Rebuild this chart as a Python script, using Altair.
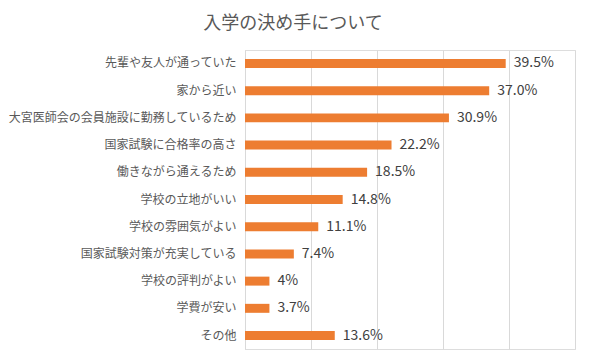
import altair as alt
import pandas as pd

title_text = "入学の決め手について"
categories = [
    "先輩や友人が通っていた",
    "家から近い",
    "大宮医師会の会員施設に勤務しているため",
    "国家試験に合格率の高さ",
    "働きながら通えるため",
    "学校の立地がいい",
    "学校の雰囲気がよい",
    "国家試験対策が充実している",
    "学校の評判がよい",
    "学費が安い",
    "その他",
]
values = [39.5, 37.0, 30.9, 22.2, 18.5, 14.8, 11.1, 7.4, 3.7, 3.7, 13.6]
labels = ["39.5%", "37.0%", "30.9%", "22.2%", "18.5%", "14.8%", "11.1%", "7.4%", "4%", "3.7%", "13.6%"]

df = pd.DataFrame({"cat": categories, "val": values, "lab": labels})
tdf = pd.DataFrame({"t": [title_text]})

FONT = "Noto Sans CJK JP"

y = alt.Y("cat:N", sort=categories, title=None,
          scale=alt.Scale(paddingInner=0.67, paddingOuter=0.33),
          axis=alt.Axis(labelFont=FONT, labelFontSize=12, labelColor="#595959",
                        labelPadding=9, ticks=False, domain=True,
                        domainColor="#D9D9D9", domainWidth=1, grid=False,
                        labelLimit=300))
x = alt.X("val:Q", title=None, scale=alt.Scale(domain=[0, 50], nice=False),
          axis=alt.Axis(values=[0, 10, 20, 30, 40, 50], labels=False, ticks=False,
                        domain=False, grid=True, gridColor="#D9D9D9", gridWidth=1))

bars = alt.Chart(df).mark_bar(color="#ED7D31").encode(x=x, y=y)
text = alt.Chart(df).mark_text(align="left", baseline="middle", dx=8, font=FONT,
                               fontSize=14, color="#404040").encode(
    x="val:Q", y=alt.Y("cat:N", sort=categories), text="lab:N")

title = alt.Chart(tdf).mark_text(align="center", baseline="middle", font=FONT,
                                 fontSize=18, color="#595959").encode(
    x=alt.value(48), y=alt.value(-26), text="t:N")

chart = (bars + text + title).properties(
    width=330, height=299,
    autosize=alt.AutoSizeParams(type="none"),
    padding={"left": 237, "top": 42, "right": 4, "bottom": 2},
).configure_view(stroke=None).configure(background="white")

chart.save("out.html", embed_options={"renderer": "svg", "actions": False})
